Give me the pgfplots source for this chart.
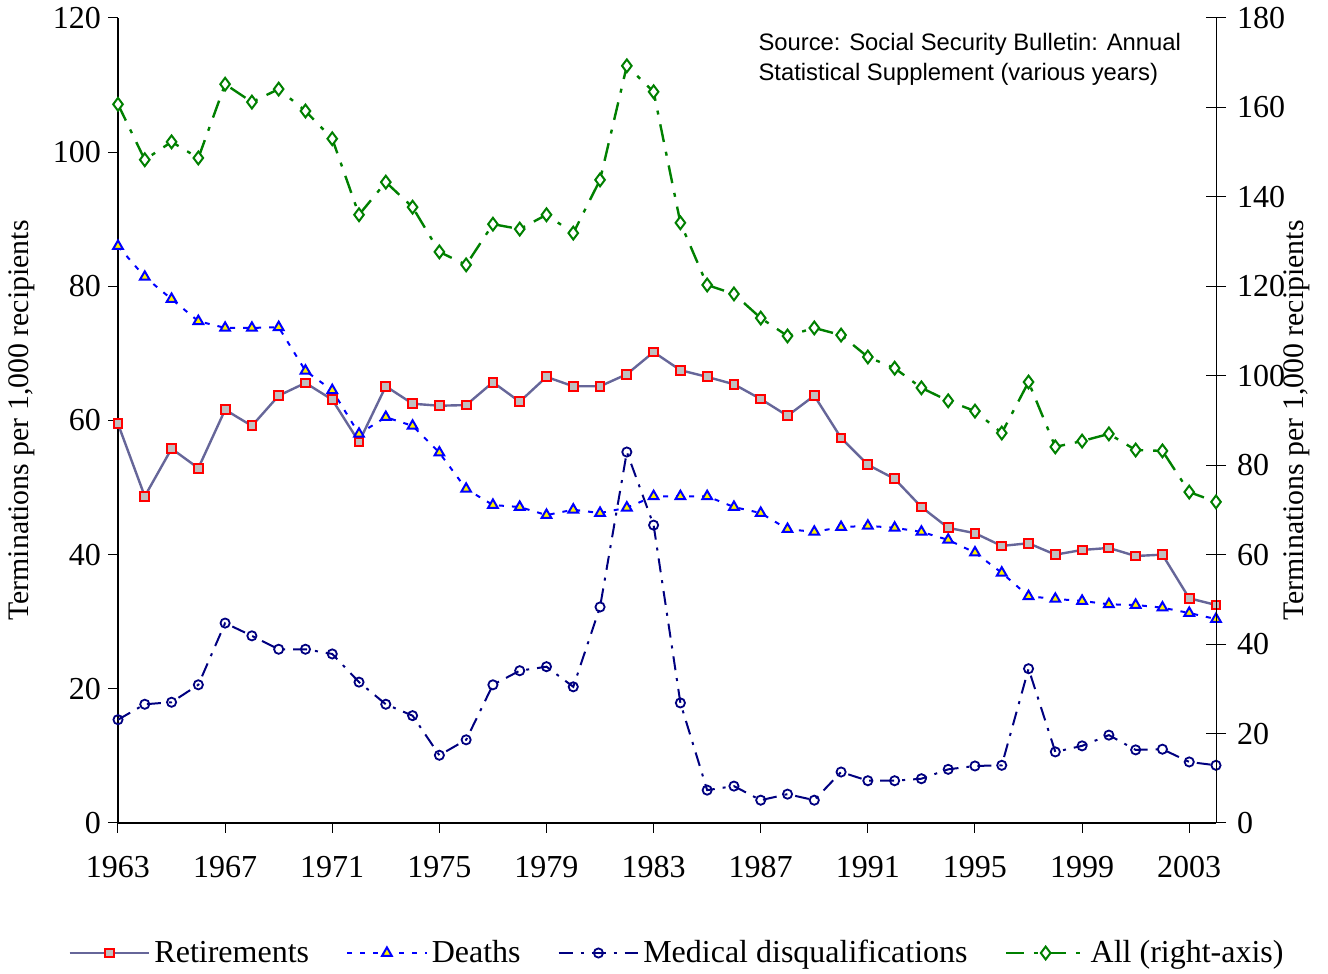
\documentclass[border=0pt]{standalone}
\usepackage{pgfplots}
\pgfplotsset{compat=1.18}
\usepackage{fontspec}
\setmainfont{Liberation Serif}
\setsansfont{Liberation Sans}
\definecolor{slate}{RGB}{102,102,153}
\definecolor{navyc}{RGB}{0,0,128}
\definecolor{greenc}{RGB}{0,128,0}
\definecolor{grayf}{RGB}{192,192,192}
\begin{document}
\begin{tikzpicture}
\path[use as bounding box] (-59pt,-75.5pt) rectangle (605pt,411.5pt);
\pgfplotsset{
  every axis/.append style={
    scale only axis, width=549pt, height=402.5pt,
    xmin=1963, xmax=2004,
    font=\fontsize{16}{19}\selectfont,
    tick label style={font=\fontsize{16}{19}\selectfont},
    label style={font=\fontsize{14.9}{18}\selectfont},
    /pgf/number format/assume math mode=true,
    /pgf/number format/1000 sep={},
    major tick length=5pt,
    tick style={black, line width=0.5pt},
  }
}
\begin{axis}[
  axis x line*=bottom, axis y line*=left,
  axis line style={line width=0.8pt},
  ymin=0, ymax=120, ytick={0,20,...,120},
  xtick={1963,1967,...,2003},
  x tick label style={yshift=-8pt},
  tick align=outside,
  ylabel={Terminations per 1,000 recipients},
  ylabel style={at={(axis description cs:-0.0874,0.5)}, anchor=center, rotate=0},
  legend style={at={(0.51,-0.1615)}, anchor=center, draw=none, legend columns=4,
    font=\fontsize{16}{19}\selectfont,
    /tikz/every even column/.append style={column sep=16.5pt}},
  legend image code/.code={
    \draw[mark repeat=2,mark phase=2] plot coordinates {(0cm,0cm) (0.7cm,0cm) (1.4cm,0cm)};},
]
\addplot[slate, line width=1.2pt, mark=square*, mark size=2.2pt,
  mark options={solid, draw=red, fill=grayf, line width=1pt}] coordinates {
(1963,59.5)(1964,48.7)(1965,55.8)(1966,52.9)(1967,61.6)(1968,59.2)(1969,63.7)(1970,65.6)
(1971,63.1)(1972,56.8)(1973,65.1)(1974,62.5)(1975,62.2)(1976,62.3)(1977,65.7)(1978,62.8)
(1979,66.5)(1980,65.1)(1981,65.1)(1982,66.9)(1983,70.2)(1984,67.5)(1985,66.5)(1986,65.4)
(1987,63.2)(1988,60.7)(1989,63.7)(1990,57.4)(1991,53.4)(1992,51.3)(1993,47.1)(1994,44.0)
(1995,43.2)(1996,41.3)(1997,41.7)(1998,40.0)(1999,40.7)(2000,41.0)(2001,39.8)(2002,40.0)
(2003,33.5)(2004,32.5)};
\addlegendentry{Retirements}
\addplot[blue, line width=1pt, dash pattern=on 2.5pt off 4pt, mark=triangle*, mark size=2.8pt,
  mark options={solid, draw=blue, fill=yellow, line width=1pt}] coordinates {
(1963,86.0)(1964,81.4)(1965,78.1)(1966,74.8)(1967,73.8)(1968,73.8)(1969,73.9)(1970,67.4)
(1971,64.5)(1972,58.0)(1973,60.5)(1974,59.2)(1975,55.2)(1976,49.8)(1977,47.4)(1978,47.1)
(1979,45.9)(1980,46.7)(1981,46.2)(1982,47.0)(1983,48.7)(1984,48.7)(1985,48.7)(1986,47.1)
(1987,46.2)(1988,43.8)(1989,43.4)(1990,44.1)(1991,44.3)(1992,44.0)(1993,43.4)(1994,42.2)
(1995,40.3)(1996,37.3)(1997,33.8)(1998,33.4)(1999,33.1)(2000,32.6)(2001,32.5)(2002,32.1)
(2003,31.3)(2004,30.4)};
\addlegendentry{Deaths}
\addplot[navyc, line width=1pt, dash pattern=on 7pt off 4pt on 1.5pt off 4pt, mark=o, mark size=2.3pt,
  mark options={solid, draw=navyc, fill=white, line width=0.9pt}] coordinates {
(1963,15.4)(1964,17.7)(1965,18.0)(1966,20.6)(1967,29.8)(1968,27.9)(1969,25.9)(1970,25.9)
(1971,25.2)(1972,21.0)(1973,17.7)(1974,16.0)(1975,10.1)(1976,12.4)(1977,20.6)(1978,22.7)
(1979,23.3)(1980,20.3)(1981,32.2)(1982,55.3)(1983,44.4)(1984,17.9)(1985,4.9)(1986,5.5)
(1987,3.4)(1988,4.3)(1989,3.4)(1990,7.6)(1991,6.3)(1992,6.3)(1993,6.6)(1994,8.0)
(1995,8.5)(1996,8.6)(1997,23.0)(1998,10.6)(1999,11.5)(2000,13.1)(2001,10.9)(2002,11.0)
(2003,9.1)(2004,8.6)};
\addlegendentry{Medical disqualifications}
\addlegendimage{greenc, line width=1.2pt, dash pattern=on 9pt off 5pt on 2pt off 5pt, mark=diamond*, mark size=3.2pt,
  mark options={solid, draw=greenc, fill=white, line width=1pt}}
\addlegendentry{All (right-axis)}
\node[anchor=north west, align=left, font=\sffamily\fontsize{11.9}{15}\selectfont, inner sep=0pt]
  at (rel axis cs:0.583,0.981) {Source: Social Security Bulletin: Annual\\Statistical Supplement (various years)};
\end{axis}
\begin{axis}[
  axis x line=none, axis y line*=right,
  axis line style={line width=0.5pt},
  ymin=0, ymax=180, ytick={0,20,...,180},
  tick align=center, major tick length=10pt,
  y tick label style={xshift=2pt},
  ylabel={Terminations per 1,000 recipients},
  ylabel style={at={(axis description cs:1.0738,0.5)}, anchor=center, rotate=0},
]
\addplot[greenc, line width=1.2pt, dash pattern=on 9pt off 5pt on 2pt off 5pt, mark=diamond*, mark size=3.2pt,
  mark options={solid, draw=greenc, fill=white, line width=1pt}] coordinates {
(1963,160.7)(1964,148.3)(1965,152.3)(1966,148.7)(1967,165.2)(1968,161.2)(1969,164.1)(1970,159.2)
(1971,153.0)(1972,136.0)(1973,143.3)(1974,137.7)(1975,127.7)(1976,124.8)(1977,133.9)(1978,132.8)
(1979,136.0)(1980,131.9)(1981,143.8)(1982,169.3)(1983,163.5)(1984,134.2)(1985,120.3)(1986,118.3)
(1987,112.9)(1988,108.9)(1989,110.7)(1990,109.1)(1991,104.2)(1992,101.7)(1993,97.3)(1994,94.4)
(1995,92.1)(1996,87.2)(1997,98.6)(1998,84.1)(1999,85.4)(2000,87.0)(2001,83.4)(2002,83.2)
(2003,74.0)(2004,71.8)};
\end{axis}
\end{tikzpicture}
\end{document}
